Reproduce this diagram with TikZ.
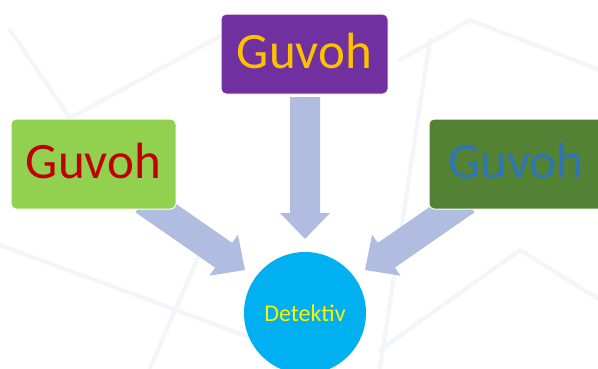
\documentclass[tikz,border=0pt]{standalone}
\usepackage{fontspec}
\setmainfont{Carlito}
\usetikzlibrary{calc}
\definecolor{arrowc}{HTML}{B0BDE0}
\definecolor{bgline}{HTML}{F4F5FA}
\definecolor{purpbox}{HTML}{7030A0}
\definecolor{lgreen}{HTML}{92D050}
\definecolor{dgreen}{HTML}{548235}
\definecolor{cyanc}{HTML}{00B0F0}
\definecolor{orangetxt}{HTML}{FFC000}
\definecolor{redtxt}{HTML}{C00000}
\definecolor{bluetxt}{HTML}{2E75B6}
\tikzset{
  gbox/.style={draw=white, line width=1pt, rounded corners=5pt, inner sep=0pt,
    minimum height=90pt, text depth=7pt, font=\fontsize{51}{51}\selectfont},
  detnode/.style={circle, fill=cyanc, inner sep=0pt, minimum size=122pt,
    text=yellow, font=\fontsize{24}{24}\selectfont},
  arrowfill/.style={fill=arrowc},
  bglinestyle/.style={draw=bgline, line width=4pt, line cap=round}
}
\newcommand\fatarrow[3]{%
  \coordinate (#3h) at ($(#2)!26pt!(#1)$);
  \fill[arrowfill] ($(#1)!15pt!90:(#2)$) -- ($(#3h)!15pt!90:(#2)$)
    -- ($(#3h)!25pt!90:(#2)$) -- (#2) -- ($(#3h)!25pt!-90:(#2)$)
    -- ($(#3h)!15pt!-90:(#2)$) -- ($(#1)!15pt!-90:(#2)$) -- cycle;}
\begin{document}
\begin{tikzpicture}[x=1pt,y=-1pt]
\useasboundingbox (0,0) rectangle (598,368);
\clip (0,0) rectangle (598,368);
\fill[white] (0,0) rectangle (598,368);
% faint background texture
\draw[bglinestyle] (10,30) -- (70,118) -- (250,20);
\draw[bglinestyle] (0,245) -- (230,330) -- (330,368);
\draw[bglinestyle] (400,60) -- (470,20) -- (600,70);
\draw[bglinestyle] (380,350) -- (520,250) -- (600,300);
\draw[bglinestyle] (150,368) -- (210,230);
\draw[bglinestyle] (430,40) -- (380,368);
% named points
\coordinate (sT) at (305,97);
\coordinate (tT) at (305,239);
\coordinate (sL) at (144,200);
\coordinate (tL) at (245,270);
\coordinate (sR) at (466,200);
\coordinate (tR) at (365,270);
% arrows
\fatarrow{sT}{tT}{aT}
\fatarrow{sL}{tL}{aL}
\fatarrow{sR}{tR}{aR}
% boxes
\node[gbox, fill=purpbox, text=orangetxt, minimum width=167pt, minimum height=80pt] (gT) at (304.5,54) {Guvoh};
\node[gbox, fill=lgreen, text=redtxt, minimum width=165pt] (gL) at (93.5,164) {Guvoh};
\node[gbox, fill=dgreen, text=bluetxt, minimum width=174pt] (gR) at (516,164) {Guvoh};
\node[detnode] (det) at (305,313) {Detektiv};
\end{tikzpicture}
\end{document}
